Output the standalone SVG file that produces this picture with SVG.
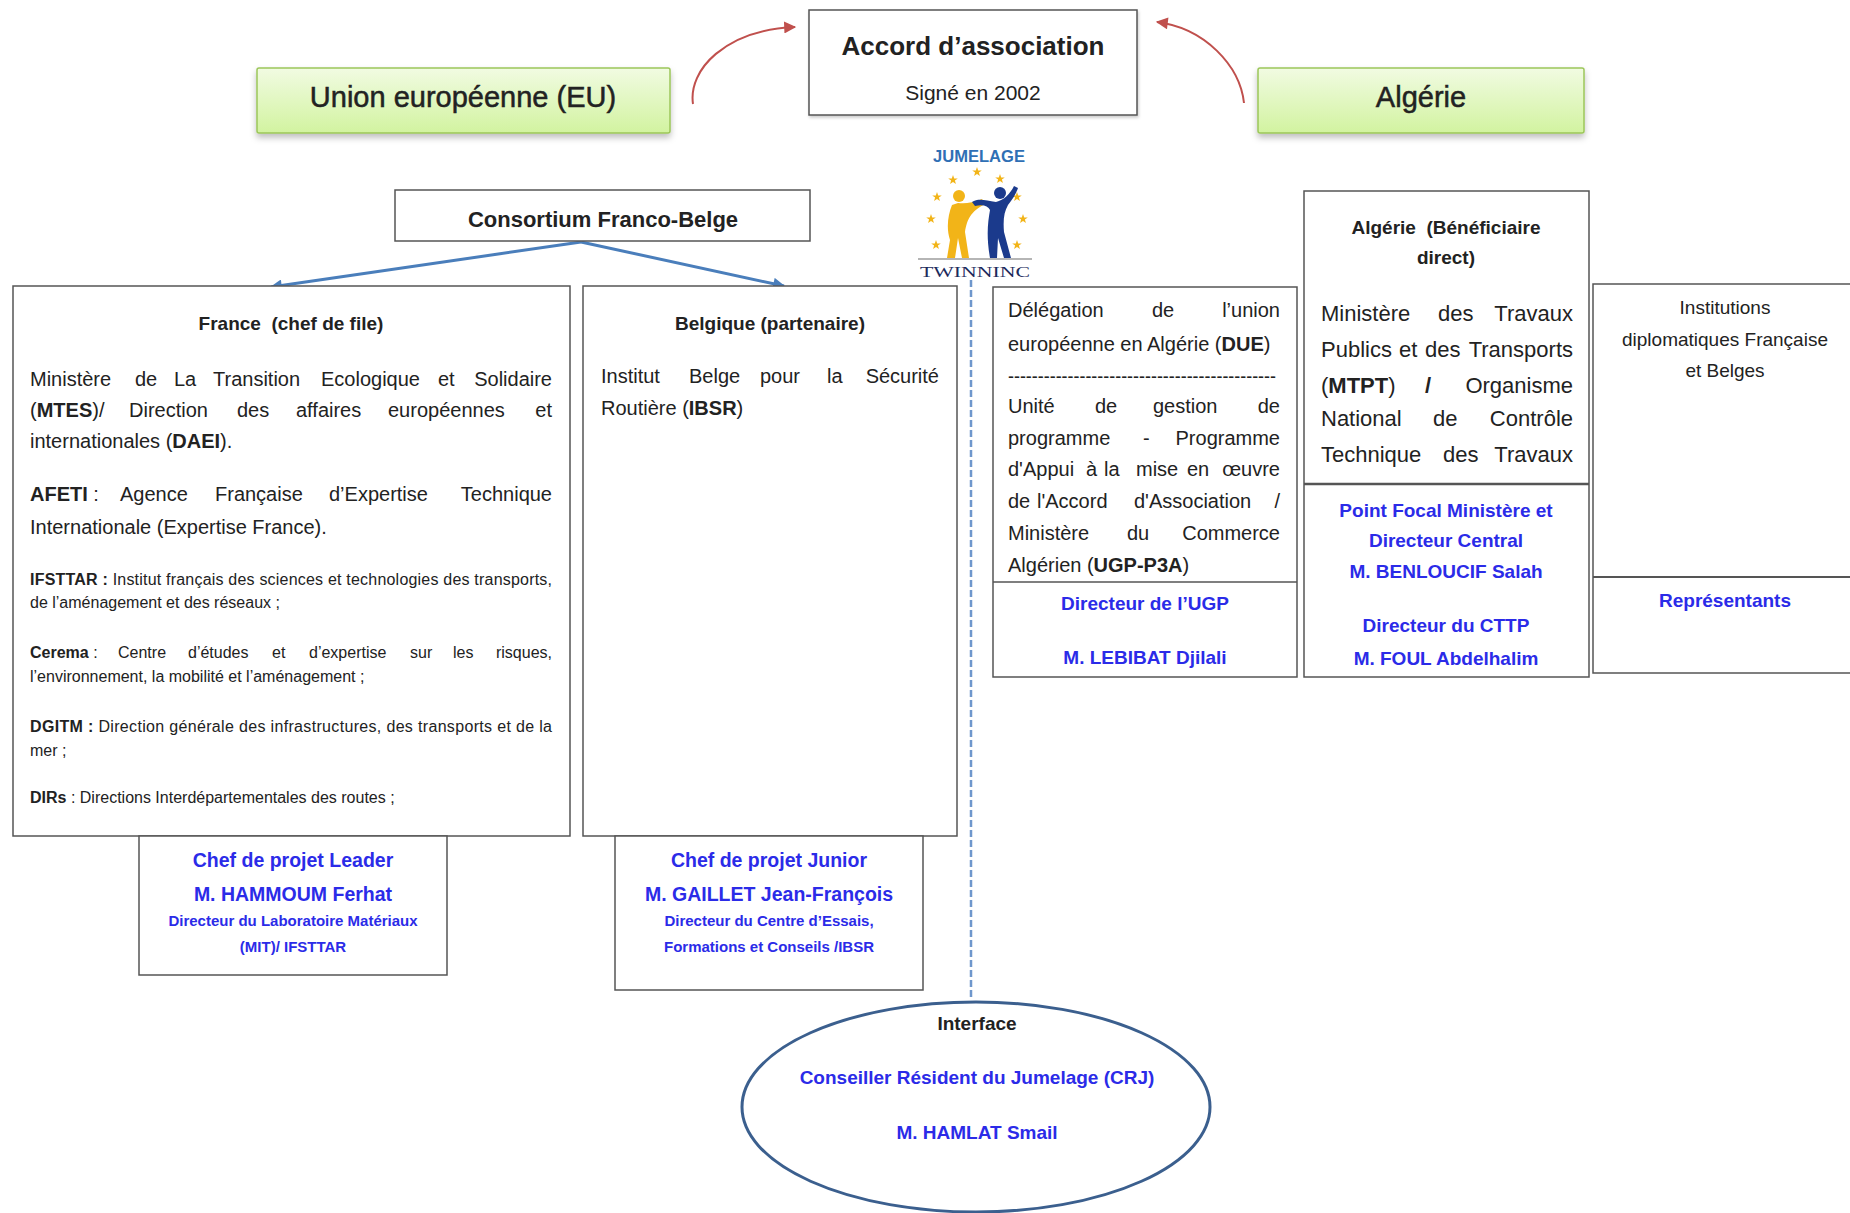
<svg xmlns="http://www.w3.org/2000/svg" xmlns:xlink="http://www.w3.org/1999/xlink" width="1850" height="1213" viewBox="0 0 1850 1213">
<style>
.box{fill:#fff;stroke:#555;stroke-width:1.5}
.green{fill:url(#green);stroke:#9cc65a;stroke-width:1.5}
.t{font-family:"Liberation Sans",Arial,sans-serif;fill:#222}
.b{font-weight:bold}
.c{text-anchor:middle}
.e{text-anchor:end}
.blue{fill:#2b2be8;font-weight:bold}
.s20{font-size:20px}
.s16{font-size:16px}
.s19{font-size:19px}
.s15{font-size:15px}
.s22{font-size:22px}
</style>
<defs>
<linearGradient id="green" x1="0" y1="0" x2="0" y2="1"><stop offset="0" stop-color="#f1fbe2"/><stop offset="1" stop-color="#d2f3a0"/></linearGradient>
<filter id="sh" x="-5%" y="-10%" width="110%" height="150%"><feDropShadow dx="0" dy="4" stdDeviation="3" flood-color="#000" flood-opacity="0.25"/></filter>
<filter id="sh2" x="-5%" y="-10%" width="110%" height="150%"><feDropShadow dx="1" dy="2" stdDeviation="1.5" flood-color="#000" flood-opacity="0.2"/></filter>
<marker id="arRed" viewBox="0 0 10 10" refX="9" refY="5" markerWidth="13" markerHeight="12" markerUnits="userSpaceOnUse" orient="auto"><path d="M0,0 L10,5 L0,10 z" fill="#c0504d"/></marker>
<marker id="arBlue" viewBox="0 0 10 10" refX="9" refY="5" markerWidth="14" markerHeight="12" markerUnits="userSpaceOnUse" orient="auto"><path d="M0,0 L10,5 L0,10 z" fill="#4a7ebb"/></marker>
<path id="star" d="M0,-5 L1.18,-1.62 L4.76,-1.55 L1.9,0.62 L2.94,4.05 L0,2 L-2.94,4.05 L-1.9,0.62 L-4.76,-1.55 L-1.18,-1.62 Z" fill="#f2b418"/>
</defs>
<rect width="1850" height="1213" fill="#fff"/>

<g id="connectors">
<path d="M693,104 C688,70 725,30 795,27" fill="none" stroke="#c0504d" stroke-width="2" marker-end="url(#arRed)"/>
<path d="M1244,103 C1240,66 1205,28 1157,22" fill="none" stroke="#c0504d" stroke-width="2" marker-end="url(#arRed)"/>
<line x1="581" y1="242" x2="271" y2="287" stroke="#4a7ebb" stroke-width="3" marker-end="url(#arBlue)"/>
<line x1="581" y1="242" x2="784" y2="286" stroke="#4a7ebb" stroke-width="3" marker-end="url(#arBlue)"/>
<line x1="971" y1="280" x2="971" y2="1000" stroke="#6f97cc" stroke-width="2.5" stroke-dasharray="7 3"/>
</g>

<g id="accord">
<rect class="box" x="809" y="10" width="328" height="105" filter="url(#sh2)"/>
<text class="t b c" x="973" y="55" font-size="26">Accord d’association</text>
<text class="t c" x="973" y="100" font-size="21">Signé en 2002</text>
</g>

<g id="ue">
<rect class="green" x="257" y="68" width="413" height="65" rx="2" filter="url(#sh)"/>
<text class="t c" x="463" y="107" font-size="29" stroke="#222" stroke-width="0.5">Union européenne (EU)</text>
</g>

<g id="algerie">
<rect class="green" x="1258" y="68" width="326" height="65" rx="2" filter="url(#sh)"/>
<text class="t c" x="1421" y="107" font-size="29" stroke="#222" stroke-width="0.5">Algérie</text>
</g>

<g id="logo">
<text x="979" y="162" font-family="Liberation Sans,Arial,sans-serif" font-weight="bold" font-size="17" fill="#2f6fb5" text-anchor="middle" textLength="92" lengthAdjust="spacingAndGlyphs">JUMELAGE</text>
<use xlink:href="#star" x="977" y="172"/>
<use xlink:href="#star" x="953" y="180"/>
<use xlink:href="#star" x="1000" y="179"/>
<use xlink:href="#star" x="937" y="197"/>
<use xlink:href="#star" x="1017" y="197"/>
<use xlink:href="#star" x="931" y="219"/>
<use xlink:href="#star" x="1023" y="219"/>
<use xlink:href="#star" x="936" y="245"/>
<use xlink:href="#star" x="1017" y="245"/>
<circle cx="959" cy="196" r="6" fill="#f2b418"/>
<path d="M952,205 C948,215 946,228 950,240 L947,258 L955,258 L958,238 L962,258 L969,258 L965,232 C967,220 970,212 985,204 L982,199 C972,203 965,204 958,203 Z" fill="#f2b418"/>
<circle cx="1000" cy="193" r="6" fill="#1b3a8c"/>
<path d="M996,202 C985,200 978,198 972,202 L975,206 C983,204 988,206 990,210 C988,222 986,235 990,258 L997,258 L998,238 L1004,258 L1011,258 L1004,232 C1003,220 1004,212 1008,205 C1012,200 1016,194 1018,188 L1014,186 C1010,194 1004,200 996,202 Z" fill="#1b3a8c"/>
<line x1="918" y1="259" x2="1032" y2="259" stroke="#b5b5b5" stroke-width="2"/>
<text x="975" y="277" font-family="Liberation Serif,Times New Roman,serif" font-size="15" fill="#1b2a5c" text-anchor="middle" textLength="110" lengthAdjust="spacingAndGlyphs">TWINNINC</text>
</g>

<g id="consortium">
<rect class="box" x="395" y="190" width="415" height="51"/>
<text class="t b c" x="603" y="227" font-size="22">Consortium Franco-Belge</text>
</g>

<g id="france">
<rect class="box" x="13" y="286" width="557" height="550"/>
<text class="t b c s19" x="291" y="330" xml:space="preserve">France  (chef de file)</text>
<text class="t s20" y="386"><tspan x="30">Ministère</tspan><tspan x="135">de</tspan><tspan x="174">La</tspan><tspan x="213">Transition</tspan><tspan x="321">Ecologique</tspan><tspan x="438">et</tspan><tspan x="552" class="e">Solidaire</tspan></text>
<text class="t s20" y="417"><tspan x="30">(<tspan class="b">MTES</tspan>)/</tspan><tspan x="129">Direction</tspan><tspan x="237">des</tspan><tspan x="296">affaires</tspan><tspan x="388">européennes</tspan><tspan x="552" class="e">et</tspan></text>
<text class="t s20" x="30" y="448">internationales (<tspan class="b">DAEI</tspan>).</text>
<text class="t s20" y="501"><tspan x="30"><tspan class="b">AFETI</tspan> :</tspan><tspan x="120">Agence</tspan><tspan x="215">Française</tspan><tspan x="329">d’Expertise</tspan><tspan x="552" class="e">Technique</tspan></text>
<text class="t s20" x="30" y="534">Internationale (Expertise France).</text>
<text class="t s16" x="30" y="585" textLength="522" lengthAdjust="spacing"><tspan class="b">IFSTTAR :</tspan> Institut français des sciences et technologies des transports,</text>
<text class="t s16" x="30" y="608">de l’aménagement et des réseaux ;</text>
<text class="t s16" y="658"><tspan x="30"><tspan class="b">Cerema</tspan> :</tspan><tspan x="118">Centre</tspan><tspan x="188">d’études</tspan><tspan x="272">et</tspan><tspan x="309">d’expertise</tspan><tspan x="410">sur</tspan><tspan x="453">les</tspan><tspan x="552" class="e">risques,</tspan></text>
<text class="t s16" x="30" y="682">l’environnement, la mobilité et l’aménagement ;</text>
<text class="t s16" x="30" y="732" textLength="522" lengthAdjust="spacing"><tspan class="b">DGITM :</tspan> Direction générale des infrastructures, des transports et de la</text>
<text class="t s16" x="30" y="756">mer ;</text>
<text class="t s16" x="30" y="803"><tspan class="b">DIRs</tspan> : Directions Interdépartementales des routes ;</text>
</g>

<g id="belgique">
<rect class="box" x="583" y="286" width="374" height="550"/>
<text class="t b c s19" x="770" y="330">Belgique (partenaire)</text>
<text class="t s20" y="383"><tspan x="601">Institut</tspan><tspan x="689">Belge</tspan><tspan x="760">pour</tspan><tspan x="827">la</tspan><tspan x="939" class="e">Sécurité</tspan></text>
<text class="t s20" x="601" y="415">Routière (<tspan class="b">IBSR</tspan>)</text>
</g>

<g id="chef-leader">
<rect class="box" x="139" y="836" width="308" height="139"/>
<text class="t blue c" x="293" y="867" font-size="19.5">Chef de projet Leader</text>
<text class="t blue c" x="293" y="901" font-size="19.5">M. HAMMOUM Ferhat</text>
<text class="t blue c s15" x="293" y="926">Directeur du Laboratoire Matériaux</text>
<text class="t blue c s15" x="293" y="952">(MIT)/ IFSTTAR</text>
</g>

<g id="chef-junior">
<rect class="box" x="615" y="836" width="308" height="154"/>
<text class="t blue c" x="769" y="867" font-size="19.5">Chef de projet Junior</text>
<text class="t blue c" x="769" y="901" font-size="19.5">M. GAILLET Jean-François</text>
<text class="t blue c s15" x="769" y="926">Directeur du Centre d’Essais,</text>
<text class="t blue c s15" x="769" y="952">Formations et Conseils /IBSR</text>
</g>

<g id="due">
<rect class="box" x="993" y="287" width="304" height="390"/>
<line x1="993" y1="582" x2="1297" y2="582" stroke="#555" stroke-width="1.5"/>
<text class="t s20" y="317"><tspan x="1008">Délégation</tspan><tspan x="1152">de</tspan><tspan x="1280" class="e">l’union</tspan></text>
<text class="t s20" x="1008" y="351">européenne en Algérie (<tspan class="b">DUE</tspan>)</text>
<text class="t s20" x="1008" y="383" textLength="268" lengthAdjust="spacingAndGlyphs">---------------------------------------------</text>
<text class="t s20" y="413"><tspan x="1008">Unité</tspan><tspan x="1095">de</tspan><tspan x="1153">gestion</tspan><tspan x="1280" class="e">de</tspan></text>
<text class="t s20" y="445"><tspan x="1008">programme</tspan><tspan x="1143">-</tspan><tspan x="1280" class="e">Programme</tspan></text>
<text class="t s20" y="476"><tspan x="1008">d'Appui</tspan><tspan x="1086">à</tspan><tspan x="1104">la</tspan><tspan x="1136">mise</tspan><tspan x="1187">en</tspan><tspan x="1280" class="e">œuvre</tspan></text>
<text class="t s20" y="508"><tspan x="1008">de</tspan><tspan x="1037">l'Accord</tspan><tspan x="1134">d'Association</tspan><tspan x="1280" class="e">/</tspan></text>
<text class="t s20" y="540"><tspan x="1008">Ministère</tspan><tspan x="1127">du</tspan><tspan x="1280" class="e">Commerce</tspan></text>
<text class="t s20" x="1008" y="572">Algérien (<tspan class="b">UGP-P3A</tspan>)</text>
<text class="t blue c s19" x="1145" y="610">Directeur de l’UGP</text>
<text class="t blue c s19" x="1145" y="664">M. LEBIBAT Djilali</text>
</g>

<g id="algerie-beneficiaire">
<rect class="box" x="1304" y="191" width="285" height="486"/>
<line x1="1304" y1="484" x2="1589" y2="484" stroke="#555" stroke-width="2.5"/>
<text class="t b c s19" x="1446" y="234" xml:space="preserve">Algérie  (Bénéficiaire</text>
<text class="t b c s19" x="1446" y="264">direct)</text>
<text class="t s22" y="321"><tspan x="1321">Ministère</tspan><tspan x="1438">des</tspan><tspan x="1573" class="e">Travaux</tspan></text>
<text class="t s22" y="357"><tspan x="1321">Publics</tspan><tspan x="1399">et</tspan><tspan x="1425">des</tspan><tspan x="1573" class="e">Transports</tspan></text>
<text class="t s22" y="393"><tspan x="1321">(<tspan class="b">MTPT</tspan>)</tspan><tspan x="1425" class="b">/</tspan><tspan x="1573" class="e">Organisme</tspan></text>
<text class="t s22" y="426"><tspan x="1321">National</tspan><tspan x="1433">de</tspan><tspan x="1573" class="e">Contrôle</tspan></text>
<text class="t s22" y="462"><tspan x="1321">Technique</tspan><tspan x="1443">des</tspan><tspan x="1573" class="e">Travaux</tspan></text>
<text class="t blue c s19" x="1446" y="517">Point Focal Ministère et</text>
<text class="t blue c s19" x="1446" y="547">Directeur Central</text>
<text class="t blue c s19" x="1446" y="578">M. BENLOUCIF Salah</text>
<text class="t blue c s19" x="1446" y="632">Directeur du CTTP</text>
<text class="t blue c s19" x="1446" y="665">M. FOUL Abdelhalim</text>
</g>

<g id="institutions">
<rect class="box" x="1593" y="284" width="270" height="389"/>
<line x1="1593" y1="577" x2="1850" y2="577" stroke="#555" stroke-width="2"/>
<text class="t c s19" x="1725" y="314">Institutions</text>
<text class="t c s19" x="1725" y="346">diplomatiques Française</text>
<text class="t c s19" x="1725" y="377">et Belges</text>
<text class="t blue c s19" x="1725" y="607">Représentants</text>
</g>

<g id="interface">
<ellipse cx="976" cy="1107" rx="234" ry="105" fill="#fff" stroke="#3b5f8e" stroke-width="3"/>
<text class="t b c s19" x="977" y="1030">Interface</text>
<text class="t blue c s19" x="977" y="1084">Conseiller Résident du Jumelage (CRJ)</text>
<text class="t blue c s19" x="977" y="1139">M. HAMLAT Smail</text>
</g>
</svg>
